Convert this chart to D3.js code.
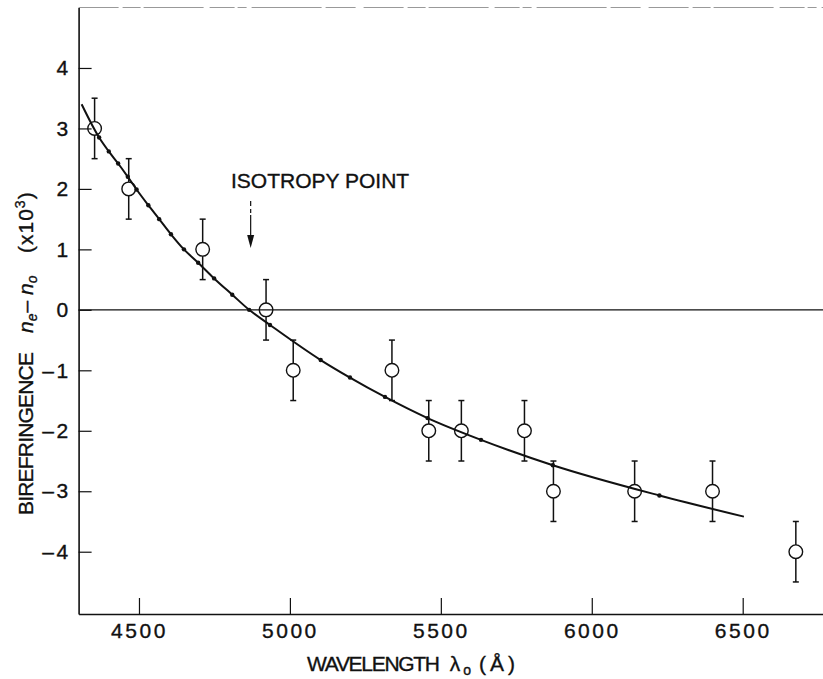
<!DOCTYPE html>
<html>
<head>
<meta charset="utf-8">
<script src="https://cdn.jsdelivr.net/npm/d3@7"></script>
<style>
  body { margin: 0; background: #fff; }
  text { font-family: "Liberation Sans", Arial, sans-serif; fill: #111; stroke: #111; stroke-width: 0.35px; }
</style>
</head>
<body>
<div id="chart"></div>
<script>
// measured points (wavelength in Angstrom, birefringence x 10^3)
var wavelengths = [4353, 4466, 4711, 4921, 5011, 5338, 5460, 5568, 5777, 5873, 6142, 6400, 6676];
var birefringence = [3, 2, 1, 0, -1, -1, -2, -2, -2, -3, -3, -3, -4];
var errors = [0.5, 0.5, 0.5, 0.5, 0.5, 0.5, 0.5, 0.5, 0.5, 0.5, 0.5, 0.5, 0.5];

// calculated points marked along the fitted curve
var curveDotLambda = [4368, 4400, 4431, 4463, 4492, 4531, 4567, 4606, 4649, 4696, 4749,
    4809, 4865, 4934, 5102, 5199, 5315, 5456, 5633, 5871, 6224];
var curveDotValue = [2.85, 2.62, 2.42, 2.20, 1.99, 1.73, 1.50, 1.25, 1.00, 0.78, 0.52,
    0.25, 0.00, -0.25, -0.83, -1.12, -1.44, -1.79, -2.15, -2.57, -3.07];
// ends of the drawn curve
var curveStart = [4310, 3.40];
var curveEnd = [6504, -3.42];

var xTicks = [4500, 5000, 5500, 6000, 6500];
var yTicks = [-4, -3, -2, -1, 0, 1, 2, 3, 4];
var isotropyLambda = 4870;

var width = 823, height = 679;

var svg = d3.select("#chart").append("svg")
    .attr("width", width)
    .attr("height", height);

var x = d3.scaleLinear().domain([4300, 6766]).range([78.6, 823]);
var y = d3.scaleLinear().domain([-5.03, 5]).range([614, 7.5]);

var fontSize = 21;

// top border (faint, broken like the scan)
svg.append("line")
    .attr("x1", x(4300)).attr("x2", width)
    .attr("y1", y(5)).attr("y2", y(5))
    .attr("stroke", "#999")
    .attr("stroke-width", 1.2)
    .attr("stroke-dasharray", "40,4,18,3,60,6,25,3,9,5,70,4,30,8");

// zero line
svg.append("line")
    .attr("x1", x(4300)).attr("x2", width)
    .attr("y1", y(0)).attr("y2", y(0))
    .attr("stroke", "#111")
    .attr("stroke-width", 1.2);

// x axis
var xAxis = svg.append("g")
    .attr("transform", "translate(0," + y(-5.03) + ")")
    .call(d3.axisBottom(x)
        .tickValues(xTicks)
        .tickSizeInner(-16)
        .tickSizeOuter(0)
        .tickPadding(9)
        .tickFormat(d3.format("d")));

// y axis
var yAxis = svg.append("g")
    .attr("transform", "translate(" + x(4300) + ",0)")
    .call(d3.axisLeft(y)
        .tickValues(yTicks)
        .tickSizeInner(-13)
        .tickSizeOuter(0)
        .tickPadding(8)
        .tickFormat(function(d) { return d < 0 ? "\u2013" + Math.abs(d) : d; }));

[xAxis, yAxis].forEach(function(g) {
    g.attr("font-family", null).attr("font-size", null);
    g.select(".domain").attr("stroke", "#111").attr("stroke-width", 1.6);
    g.selectAll(".tick line").attr("stroke", "#111").attr("stroke-width", 1.2);
    g.selectAll(".tick text")
        .style("font-size", fontSize + "px")
        .style("letter-spacing", "2.5px")
        .attr("fill", "#111");
});

// fitted curve
var curvePts = [curveStart];
curveDotLambda.forEach(function(l, i) { curvePts.push([l, curveDotValue[i]]); });
curvePts.push(curveEnd);

var line = d3.line()
    .x(function(d) { return x(d[0]); })
    .y(function(d) { return y(d[1]); })
    .curve(d3.curveMonotoneX);

svg.append("path")
    .datum(curvePts)
    .attr("d", line)
    .attr("fill", "none")
    .attr("stroke", "#111")
    .attr("stroke-width", 2);

svg.selectAll(".cdot")
    .data(curveDotLambda)
    .enter().append("circle")
    .attr("class", "cdot")
    .attr("cx", function(d) { return x(d); })
    .attr("cy", function(d, i) { return y(curveDotValue[i]); })
    .attr("r", 2.2)
    .attr("fill", "#111");

// error bars + open circles
var r = 6.8, cap = 3;
var pts = svg.selectAll(".pt")
    .data(wavelengths)
    .enter().append("g")
    .attr("class", "pt");

pts.append("line")
    .attr("x1", function(d) { return x(d); })
    .attr("x2", function(d) { return x(d); })
    .attr("y1", function(d, i) { return y(birefringence[i] + errors[i]); })
    .attr("y2", function(d, i) { return y(birefringence[i]) - r; })
    .attr("stroke", "#111").attr("stroke-width", 1.5);

pts.append("line")
    .attr("x1", function(d) { return x(d); })
    .attr("x2", function(d) { return x(d); })
    .attr("y1", function(d, i) { return y(birefringence[i]) + r; })
    .attr("y2", function(d, i) { return y(birefringence[i] - errors[i]); })
    .attr("stroke", "#111").attr("stroke-width", 1.5);

[1, -1].forEach(function(s) {
    pts.append("line")
        .attr("x1", function(d) { return x(d) - cap; })
        .attr("x2", function(d) { return x(d) + cap; })
        .attr("y1", function(d, i) { return y(birefringence[i] + s * errors[i]); })
        .attr("y2", function(d, i) { return y(birefringence[i] + s * errors[i]); })
        .attr("stroke", "#111").attr("stroke-width", 1.5);
});

pts.append("circle")
    .attr("cx", function(d) { return x(d); })
    .attr("cy", function(d, i) { return y(birefringence[i]); })
    .attr("r", r)
    .attr("fill", "none")
    .attr("stroke", "#111")
    .attr("stroke-width", 1.4);

// isotropy point annotation
var ax = x(isotropyLambda);
svg.append("text")
    .attr("x", 231).attr("y", 187.5)
    .style("font-size", fontSize + "px")
    .text("ISOTROPY POINT");

svg.append("line")
    .attr("x1", ax).attr("x2", ax)
    .attr("y1", 201).attr("y2", 238)
    .attr("stroke", "#111").attr("stroke-width", 1.2)
    .attr("stroke-dasharray", "5,3,4,2,30");

svg.append("path")
    .attr("d", "M" + (ax - 3.5) + ",235 L" + (ax + 3.5) + ",235 L" + ax + ",248 Z")
    .attr("fill", "#111");

// x axis title
var xt = svg.append("text")
    .attr("x", 307).attr("y", 671)
    .style("font-size", fontSize + "px");
xt.append("tspan").attr("textLength", 133).attr("lengthAdjust", "spacing").text("WAVELENGTH");
xt.append("tspan").attr("dx", 11).text("\u03bb");
xt.append("tspan").attr("dx", 3).attr("dy", 4).style("font-size", "14px").text("o");
xt.append("tspan").attr("dx", 8).attr("dy", -4).style("letter-spacing", "4px").text("(\u00c5)");

// y axis title
var yt = svg.append("g").attr("transform", "translate(33,515) rotate(-90)");
yt.append("text")
    .attr("x", 0).attr("y", 0)
    .style("font-size", fontSize + "px")
    .attr("textLength", 163).attr("lengthAdjust", "spacing")
    .text("BIREFRINGENCE");

var ny = yt.append("text")
    .attr("x", 182).attr("y", 0)
    .style("font-size", fontSize + "px")
    .style("font-style", "italic");
ny.append("tspan").text("n");
ny.append("tspan").attr("dy", 4).style("font-size", "14px").text("e");
ny.append("tspan").attr("dy", -4).attr("dx", 1).style("font-style", "normal").text("\u2013 ");
ny.append("tspan").text("n");
ny.append("tspan").attr("dy", 4).style("font-size", "14px").text("o");

var px = yt.append("text")
    .attr("x", 262).attr("y", 0)
    .style("font-size", fontSize + "px")
    .style("letter-spacing", "1px");
px.append("tspan").text("(x10");
px.append("tspan").attr("dy", -8).style("font-size", "14px").text("3");
px.append("tspan").attr("dy", 8).text(")");
</script>
</body>
</html>
